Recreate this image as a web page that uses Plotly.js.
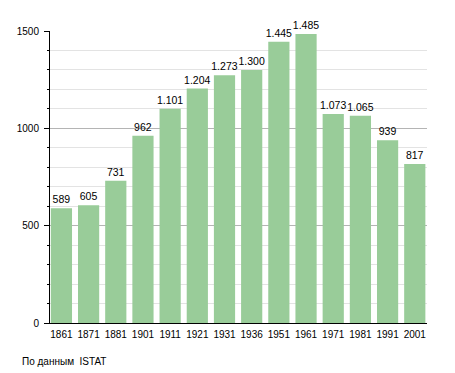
<!DOCTYPE html>
<html>
<head>
<meta charset="utf-8">
<script src="https://cdn.plot.ly/plotly-3.0.1.min.js"></script>
<style>html,body{margin:0;padding:0;background:#fff;}#chart{width:455px;height:373px;}</style>
</head>
<body>
<div id="chart"></div>
<script>
const years = ['1861','1871','1881','1901','1911','1921','1931','1936','1951','1961','1971','1981','1991','2001'];
const population = [589, 605, 731, 962, 1101, 1204, 1273, 1300, 1445, 1485, 1073, 1065, 939, 817];
const yTicks = [0, 500, 1000, 1500];
const sourceNote = 'По данным  ISTAT';

const trace = {
  type: 'bar',
  x: years,
  y: population,
  marker: {color: '#99cc99', line: {width: 0}},
  texttemplate: '%{y:,}',
  textposition: 'outside',
  constraintext: 'none',
  cliponaxis: false,
  textfont: {family: 'Liberation Sans, Arial, sans-serif', size: 10.5, color: '#000'},
  hoverinfo: 'none'
};

const layout = {
  width: 455, height: 373,
  margin: {l: 50, r: 28.4, t: 30.8, b: 49.7, pad: 0},
  paper_bgcolor: '#fff', plot_bgcolor: '#fff',
  separators: ',.',
  bargap: 0.22,
  showlegend: false,
  font: {family: 'Liberation Sans, Arial, sans-serif', size: 10, color: '#000'},
  xaxis: {
    type: 'category',
    range: [-0.42, 13.45],
    showgrid: false,
    showline: true, linecolor: '#000', linewidth: 1,
    ticks: '', ticklabelstandoff: 2,
    tickfont: {size: 10},
    fixedrange: true
  },
  yaxis: {
    range: [0, 1500],
    tickvals: yTicks,
    ticktext: yTicks.map(String),
    showgrid: true, gridcolor: '#b4b4b4', gridwidth: 1,
    showline: true, linecolor: '#000', linewidth: 1,
    ticks: 'outside', ticklen: 5, tickcolor: '#000',
    ticklabelstandoff: 3,
    zeroline: false,
    minor: {dtick: 100, showgrid: true, gridcolor: '#e3e3e3', ticks: 'outside', ticklen: 2, tickcolor: '#000'},
    tickfont: {size: 10},
    fixedrange: true
  },
  annotations: [{
    text: sourceNote,
    xref: 'paper', yref: 'paper',
    x: -0.0797, y: -0.132,
    xanchor: 'left', yanchor: 'middle',
    showarrow: false,
    font: {size: 10, color: '#000'}
  }]
};

Plotly.newPlot('chart', [trace], layout, {staticPlot: true, displayModeBar: false});
</script>
</body>
</html>
